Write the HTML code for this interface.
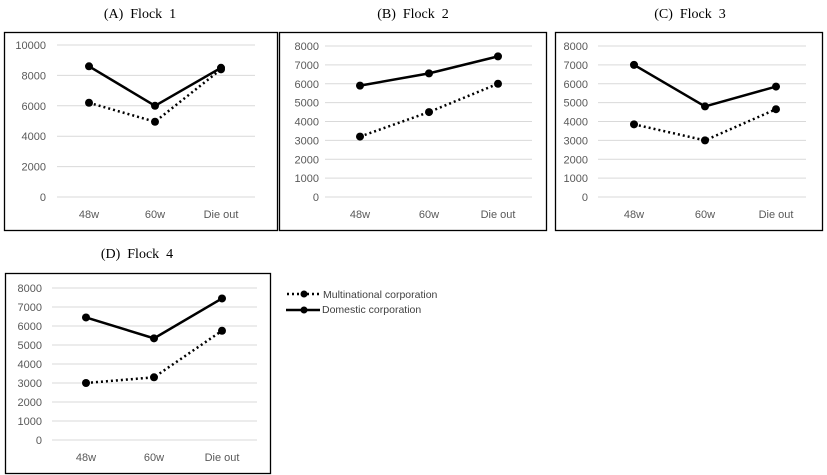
<!DOCTYPE html>
<html><head><meta charset="utf-8"><style>
body{margin:0;background:#fff;width:827px;height:475px;overflow:hidden}
svg{display:block}
.t{font-family:"Liberation Serif",serif;font-size:14px;fill:#000;white-space:pre}
.a{font-family:"Liberation Sans",sans-serif;font-size:11px;fill:#595959}
.l{font-family:"Liberation Sans",sans-serif;font-size:10.5px;fill:#404040}
</style></head><body>
<svg id="c" width="827" height="475" xmlns="http://www.w3.org/2000/svg">
<g>
<line x1="287" y1="294" x2="320" y2="294" stroke="#000" stroke-width="2.5" stroke-dasharray="2,3"/>
<circle cx="304" cy="294" r="3.5" fill="#000"/>
<text class="l" x="323" y="298">Multinational corporation</text>
<line x1="286" y1="310" x2="320" y2="310" stroke="#000" stroke-width="2.5"/>
<circle cx="304" cy="310" r="3.5" fill="#000"/>
<text class="l" x="322" y="313">Domestic corporation</text>
</g>
</svg>
<script>
const categories = ["48w","60w","Die out"];
const titles = ["(A)  Flock  1","(B)  Flock  2","(C)  Flock  3","(D)  Flock  4"];
const multinational = [[6200,4950,8400],[3200,4500,6000],[3850,3000,4650],[3000,3300,5750]];
const domestic = [[8600,6000,8500],[5900,6550,7450],[7000,4800,5850],[6450,5350,7450]];
const yMax = [10000,8000,8000,8000];
const yStep = [2000,1000,1000,1000];

const layout = [
 {bx:4,by:32,bw:273,bh:198,gx0:57,gx1:255,yt:45,yb:197,cx:[89,155,221],lx:46,ty:18,tx:140},
 {bx:279,by:32,bw:267,bh:198,gx0:325,gx1:532,yt:46,yb:197,cx:[360,429,498],lx:319,ty:18,tx:413},
 {bx:555,by:32,bw:267,bh:198,gx0:598,gx1:806,yt:46,yb:197,cx:[634,705,776],lx:588,ty:18,tx:690},
 {bx:5,by:273,bw:265,bh:200,gx0:52,gx1:257,yt:288,yb:440,cx:[86,154,222],lx:42,ty:258,tx:137}
];
const NS="http://www.w3.org/2000/svg";
const svg=document.getElementById('c');
function mk(tag,attrs,parent){const e=document.createElementNS(NS,tag);for(const k in attrs)e.setAttribute(k,attrs[k]);(parent||svg).appendChild(e);return e;}
layout.forEach((L,i)=>{
 const g=mk('g',{});
 
 
 const t=mk('text',{class:'t',x:L.tx,y:L.ty,'text-anchor':'middle'},g);t.textContent=titles[i];
 
 
 const b=mk('rect',{x:L.bx+0.5,y:L.by+0.5,width:L.bw,height:L.bh,fill:'none',stroke:'#000','stroke-width':1.3},g);
 
 
 const ys=v=>L.yb-(v/yMax[i])*(L.yb-L.yt);
 for(let v=0;v<=yMax[i];v+=yStep[i]){
  const gl=mk('line',{x1:L.gx0,x2:L.gx1,y1:ys(v),y2:ys(v),stroke:'#d9d9d9','stroke-width':1},g);
  
  
  const tl=mk('text',{class:'a',x:L.lx,y:ys(v)+4,'text-anchor':'end'},g);tl.textContent=v;
  
  
 }
 categories.forEach((c,j)=>{
  const ct=mk('text',{class:'a',x:L.cx[j],y:L.yb+21,'text-anchor':'middle'},g);ct.textContent=c;
  
  
 });
 [[multinational[i],'2,3','multinational'],[domestic[i],null,'domestic']].forEach(([d,dash,nm])=>{
  const pts=d.map((v,j)=>L.cx[j]+','+ys(v)).join(' ');
  const a={points:pts,fill:'none',stroke:'#000','stroke-width':2.5};if(dash)a['stroke-dasharray']=dash;
  const pl=mk('polyline',a,g);
  
  
  d.forEach((v,j)=>{
   const c=mk('circle',{cx:L.cx[j],cy:ys(v),r:4,fill:'#000'},g);
   
   
  });
 });
});
</script>
</body></html>
